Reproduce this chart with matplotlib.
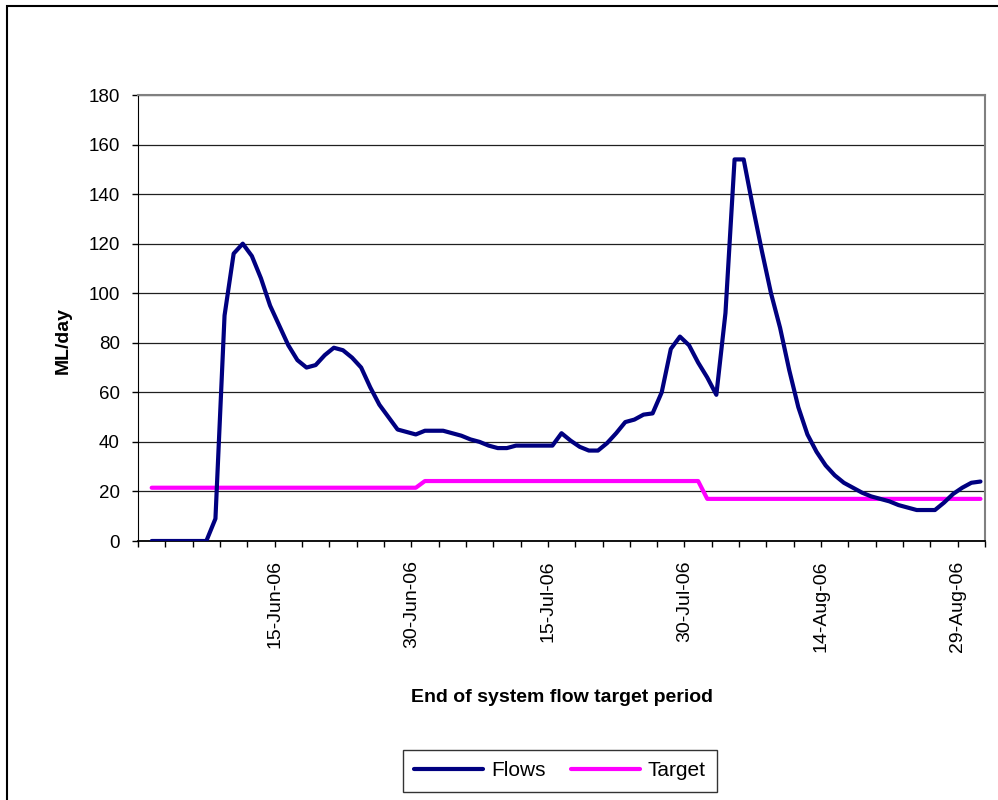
import pandas as pd
import matplotlib
matplotlib.use('Agg')
from matplotlib import pyplot as plt
from matplotlib import font_manager
import matplotlib.dates as mdates
from matplotlib.patches import Rectangle

# daily values, 1-Jun-06 .. 31-Aug-06
START = '2006-06-01'
END = '2006-08-31'

flows = [0, 0, 0, 0, 0, 0, 0, 9, 91, 116,
         120, 115, 106, 95, 87, 79, 73, 70, 71, 75,
         78, 77, 74, 70, 62, 55, 50, 45, 44, 43,
         44.5, 44.5, 44.5, 43.5, 42.5, 41, 40, 38.5, 37.5, 37.5,
         38.5, 38.5, 38.5, 38.5, 38.5, 43.5, 40.5, 38, 36.5, 36.5,
         39.5, 43.5, 48, 49, 51, 51.5, 60, 77.5, 82.5, 79,
         72, 66, 59, 92, 154, 154, 135, 117, 100, 86,
         69, 54, 43, 36, 30.5, 26.5, 23.5, 21.5, 19.5, 18,
         17, 16, 14.5, 13.5, 12.5, 12.5, 12.5, 15.5, 19, 21.5,
         23.5, 24]

target = [21.5, 21.5, 21.5, 21.5, 21.5, 21.5, 21.5, 21.5, 21.5, 21.5,
          21.5, 21.5, 21.5, 21.5, 21.5, 21.5, 21.5, 21.5, 21.5, 21.5,
          21.5, 21.5, 21.5, 21.5, 21.5, 21.5, 21.5, 21.5, 21.5, 21.5,
          24.2, 24.2, 24.2, 24.2, 24.2, 24.2, 24.2, 24.2, 24.2, 24.2,
          24.2, 24.2, 24.2, 24.2, 24.2, 24.2, 24.2, 24.2, 24.2, 24.2,
          24.2, 24.2, 24.2, 24.2, 24.2, 24.2, 24.2, 24.2, 24.2, 24.2,
          24.2, 17, 17, 17, 17, 17, 17, 17, 17, 17,
          17, 17, 17, 17, 17, 17, 17, 17, 17, 17,
          17, 17, 17, 17, 17, 17, 17, 17, 17, 17,
          17, 17]

label_dates = ['2006-06-15', '2006-06-30', '2006-07-15',
               '2006-07-30', '2006-08-14', '2006-08-29']

# pick a narrow font if we have one
installed = set(f.name for f in font_manager.fontManager.ttflist)
if 'Liberation Sans Narrow' in installed:
    FONT = 'Liberation Sans Narrow'
else:
    FONT = 'Liberation Sans'
plt.rcParams['font.family'] = [FONT, 'DejaVu Sans']

dates = pd.date_range(START, END, freq='D')
xpos = dates + pd.Timedelta(hours=12)  # points sit in the middle of each day

fig = plt.figure(figsize=(9.98, 8.0), dpi=100)
ax = fig.add_axes([0.1383, 0.32375, 0.8487, 0.5575])

ax.plot(xpos, target, color='#FF00FF', lw=3.0, solid_capstyle='round', label='Target', zorder=3)
ax.plot(xpos, flows, color='#000080', lw=3.0, solid_capstyle='round', label='Flows', zorder=4)

ax.set_ylim(0, 180)
ax.set_yticks(range(0, 181, 20))
ax.set_xlim(pd.Timestamp('2006-05-31'), pd.Timestamp('2006-09-01'))

ticks = pd.date_range('2006-05-31', '2006-09-01', freq='3D')
ax.set_xticks(ticks)
lbls = []
for t in ticks:
    if t.strftime('%Y-%m-%d') in label_dates:
        lbls.append(t.strftime('%d-%b-%y'))
    else:
        lbls.append('')
ax.set_xticklabels(lbls, rotation=90, fontsize=14)

ax.yaxis.grid(True, color='#202020', lw=0.9)
ax.set_axisbelow(True)
ax.tick_params(axis='y', direction='out', length=4, width=1, pad=9, labelsize=13.5)
ax.tick_params(axis='x', direction='out', length=4, width=1, pad=10)

ax.spines['left'].set_color('black')
ax.spines['bottom'].set_color('black')
ax.spines['bottom'].set_linewidth(1.3)
ax.spines['top'].set_color('#808080')
ax.spines['right'].set_color('#808080')
ax.spines['top'].set_linewidth(1.5)
ax.spines['right'].set_linewidth(1.5)

fig.text(63 / 998, 1 - 340 / 800, 'ML/day', rotation=90, ha='center', va='center',
         fontsize=14, fontweight='bold')
fig.text(562 / 998, 1 - 697 / 800, 'End of system flow target period', ha='center', va='center',
         fontsize=14, fontweight='bold')

handles, names = ax.get_legend_handles_labels()
leg = fig.legend(handles[::-1], names[::-1], loc='center', bbox_to_anchor=(560 / 998, 1 - 771 / 800),
                 ncol=2, fontsize=15, frameon=True, fancybox=False, edgecolor='black',
                 handlelength=3.3, columnspacing=1.2, handletextpad=0.4, borderpad=0.55)
leg.get_frame().set_linewidth(1.0)

# outer chart border (only the top and left edges fall inside the picture)
fig.add_artist(Rectangle((7 / 998, -0.2), 1.2, 1.2 - 6 / 800, transform=fig.transFigure,
                         fill=False, edgecolor='black', lw=1.5))

plt.savefig('out.png', dpi=100)
